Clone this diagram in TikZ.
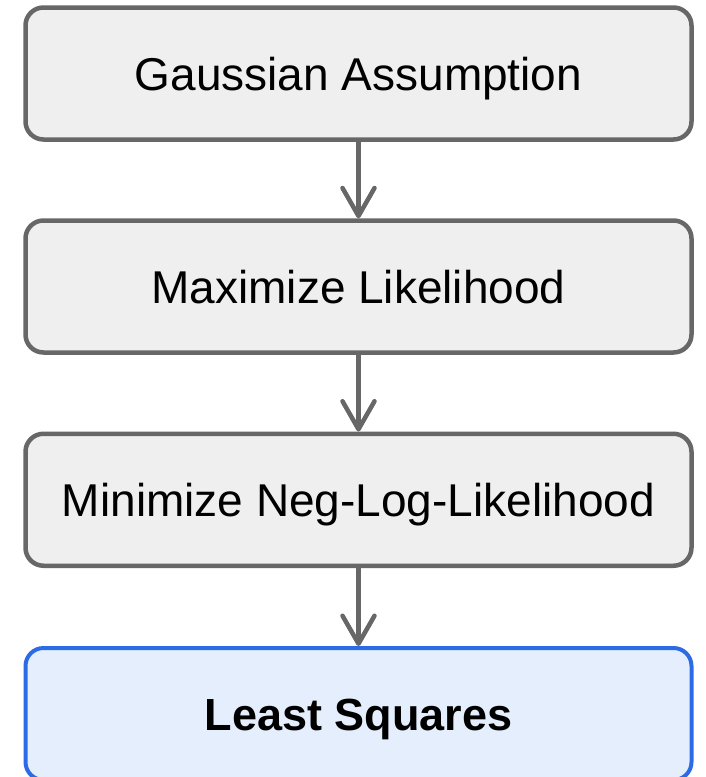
\documentclass[tikz,border=0pt]{standalone}
\usepackage{fontspec}
\setmainfont{Liberation Sans}
\usetikzlibrary{arrows.meta}
\definecolor{boxgray}{HTML}{676767}
\definecolor{boxfill}{HTML}{EFEFEF}
\definecolor{blueline}{HTML}{2C6BE6}
\definecolor{bluefill}{HTML}{E4EEFC}
\tikzset{
  stepbox/.style={draw=boxgray, fill=boxfill, line width=4.5pt, rounded corners=18pt,
    minimum width=666pt, minimum height=132pt, inner sep=0pt,
    font=\fontsize{46pt}{50pt}\selectfont, text height=33pt, text depth=0pt},
  finalbox/.style={stepbox, draw=blueline, fill=bluefill, line width=4pt,
    font=\fontsize{45pt}{50pt}\selectfont\bfseries},
  flow/.style={draw=boxgray, line width=4.5pt,
    -{Straight Barb[length=28pt,width=32pt,line cap=round,line join=round]}}
}
\begin{document}
\begin{tikzpicture}[x=1pt,y=-1pt]
\useasboundingbox (0,0) rectangle (705,777);
\begin{scope}
\clip (0,0) rectangle (705,777);
\node[stepbox] (b1) at (358.5,73.5) {Gaussian Assumption};
\node[stepbox] (b2) at (358.5,286.5) {Maximize Likelihood};
\node[stepbox] (b3) at (358.5,499.75) {Minimize Neg-Log-Likelihood};
\node[finalbox] (b4) at (358.5,714) {Least Squares};
\draw[flow] (b1.south) -- (b2.north);
\draw[flow] (b2.south) -- (b3.north);
\draw[flow] (b3.south) -- (b4.north);
\end{scope}
\end{tikzpicture}
\end{document}
